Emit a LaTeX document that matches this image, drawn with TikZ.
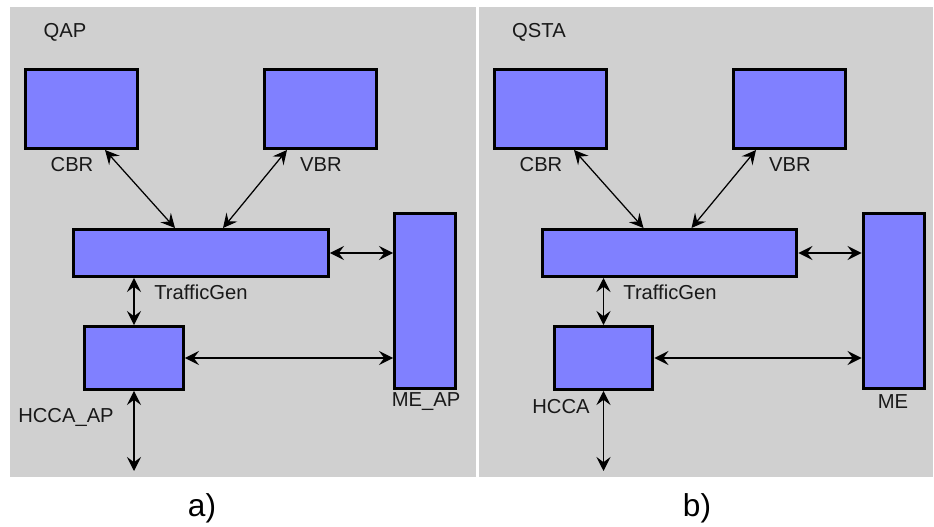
\documentclass[tikz,border=0pt]{standalone}
\usepackage{fontspec}
\setmainfont{Liberation Sans}
\usetikzlibrary{arrows.meta}
\usetikzlibrary{positioning}
\usetikzlibrary{calc}
\definecolor{panelgray}{RGB}{208,208,208}
\definecolor{boxblue}{RGB}{128,128,255}
\definecolor{labelgray}{RGB}{25,25,25}
\tikzset{
    block/.style={draw=black, fill=boxblue, line width=0.06cm, inner sep=0pt},
    link/.style={draw=black, line width=0.025cm,
        {Stealth[length=8pt,width=8pt,inset=3pt]}-{Stealth[length=8pt,width=8pt,inset=3pt]}},
    tag/.style={text=labelgray, font=\fontsize{11.5}{13}\selectfont, inner sep=0pt},
    caption/.style={font=\fontsize{18}{20}\selectfont, inner sep=0pt},
}

\begin{document}
\begin{tikzpicture}[x=0.02cm, y=-0.02cm]

\useasboundingbox (0,0) rectangle (934,527);

		%% a) QAP
		\fill[panelgray] (10,7) rectangle (476,477);
		\node[tag] (a-title) at (65,32) {QAP};
		\node[block, minimum width=2.24cm, minimum height=1.58cm] (a-cbr) at (81.5,109) {};
		\node[block, minimum width=2.24cm, minimum height=1.58cm] (a-vbr) at (320.5,109) {};
		\node[block, minimum width=5.10cm, minimum height=0.94cm] (a-tg) at (201,253) {};
		\node[block, minimum width=1.22cm, minimum height=3.50cm] (a-me) at (425,301) {};
		\node[block, minimum width=1.98cm, minimum height=1.26cm] (a-hcca) at (134,358) {};
		\node[tag] (a-cbrl) at (72,165) {CBR};
		\node[tag] (a-vbrl) at (321,165) {VBR};
		\node[tag] (a-tgl) at (201,292) {TrafficGen};
		\node[tag] (a-hccal) at (66,417) {HCCA\_AP};
		\node[tag] (a-mel) at (426,402) {ME\_AP};
		\coordinate (a-out) at (134,471);
		\draw[link] ([xshift=0.47cm]a-cbr.south) -- ([xshift=-0.52cm]a-tg.north);
		\draw[link] ([xshift=-0.67cm]a-vbr.south) -- ([xshift=0.44cm]a-tg.north);
		\draw[link] (a-tg.east) -- (a-tg.east -| a-me.west);
		\draw[link] (a-hcca.north) -- (a-hcca.north |- a-tg.south);
		\draw[link] (a-hcca.east) -- (a-hcca.east -| a-me.west);
		\draw[link] (a-hcca.south) -- (a-out);
		\node[caption] (a-cap) at (202,508) {a)};

		%% b) QSTA
		\fill[panelgray] (479,7) rectangle (933,477);
		\node[tag] (b-title) at (539,32) {QSTA};
		\node[block, minimum width=2.24cm, minimum height=1.58cm] (b-cbr) at (550.5,109) {};
		\node[block, minimum width=2.24cm, minimum height=1.58cm] (b-vbr) at (789.5,109) {};
		\node[block, minimum width=5.10cm, minimum height=0.94cm] (b-tg) at (669.5,253) {};
		\node[block, minimum width=1.22cm, minimum height=3.50cm] (b-me) at (893.5,301) {};
		\node[block, minimum width=1.98cm, minimum height=1.26cm] (b-hcca) at (603.5,358) {};
		\node[tag] (b-cbrl) at (541,165) {CBR};
		\node[tag] (b-vbrl) at (790,165) {VBR};
		\node[tag] (b-tgl) at (670,292) {TrafficGen};
		\node[tag] (b-hccal) at (561,407) {HCCA};
		\node[tag] (b-mel) at (893,402) {ME};
		\coordinate (b-out) at (603.5,471);
		\draw[link] ([xshift=0.47cm]b-cbr.south) -- ([xshift=-0.52cm]b-tg.north);
		\draw[link] ([xshift=-0.67cm]b-vbr.south) -- ([xshift=0.44cm]b-tg.north);
		\draw[link] (b-tg.east) -- (b-tg.east -| b-me.west);
		\draw[link] (b-hcca.north) -- (b-hcca.north |- b-tg.south);
		\draw[link] (b-hcca.east) -- (b-hcca.east -| b-me.west);
		\draw[link] (b-hcca.south) -- (b-out);
		\node[caption] (b-cap) at (697,508) {b)};

\end{tikzpicture}
\end{document}
